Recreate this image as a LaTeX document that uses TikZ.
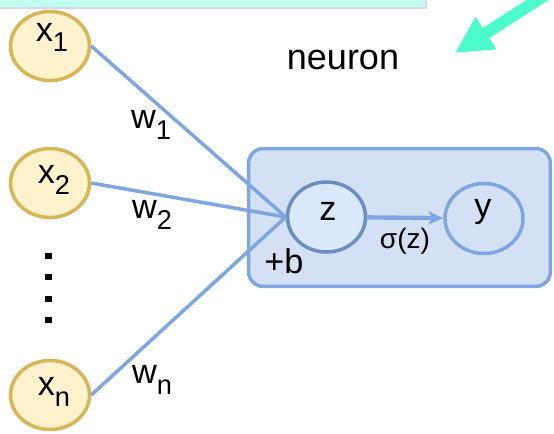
\documentclass[tikz,border=0pt]{standalone}
\usepackage{fontspec}
\setmainfont{Liberation Sans}
\usetikzlibrary{shapes.geometric,arrows.meta}

\definecolor{inFill}{HTML}{FFF2CC}
\definecolor{inLine}{HTML}{D6B656}
\definecolor{cellFill}{HTML}{D4E1F5}
\definecolor{cellLine}{HTML}{7EA6E0}
\definecolor{zFill}{HTML}{DAE8FC}
\definecolor{zLine}{HTML}{6C8EBF}
\definecolor{bannerFill}{HTML}{C0FFEE}
\definecolor{bannerLine}{HTML}{D8D4F0}
\definecolor{pointer}{HTML}{4DFCCB}

% indice abbassato
\newcommand{\lowidx}[1]{\raisebox{-0.22cm}{\fontsize{15.5}{15.5}\selectfont #1}}

\begin{document}
\begin{tikzpicture}[x=0.02cm, y=-0.02cm]
    % --- CONFIGURAZIONE ---
    \tikzset{
        input_style/.style={ellipse, draw=inLine, fill=inFill, line width=2pt,
            minimum width=1.58cm, minimum height=1.38cm, inner sep=0pt},
        unit_style/.style={ellipse, line width=2pt,
            minimum width=1.56cm, minimum height=1.40cm, inner sep=0pt},
        edge_style/.style={draw=cellLine, line width=2pt},
        text_style/.style={anchor=base, inner sep=0pt, font=\fontsize{19.5}{19.5}\selectfont}
    }

    \useasboundingbox (0,0) rectangle (554,433);

    % ===================================================
    % 1. BANNER E FRECCIA
    % ===================================================
    \draw[fill=bannerFill, draw=bannerLine, line width=1.1pt] (-10,-30) rectangle (426,8);
    \coordinate (tail) at (581,-28);
    \coordinate (tip) at (455,53);
    \draw[pointer, line width=6.8pt, -{Triangle[length=7.4mm, width=7.2mm]}] (tail) -- (tip);
    \node[text_style, font=\fontsize{20.5}{20.5}\selectfont] (title) at (343,69) {neuron};

    % ===================================================
    % 2. NEURONE
    % ===================================================
    \node[draw=cellLine, fill=cellFill, line width=2pt, rounded corners=0.3cm,
        minimum width=6.04cm, minimum height=2.76cm] (cell) at (399.5,217.5) {};
    \node[unit_style, draw=zLine, fill=zFill] (z) at (326.5,217) {};
    \node[unit_style, draw=cellLine] (y) at (484,218.5) {};
    \node[text_style] at (328,220) {z};
    \node[text_style] at (483,217) {y};
    \node[text_style, font=\fontsize{16}{16}\selectfont] at (405,248) {σ(z)};
    \node[text_style] at (284,273) {+b};
    \draw[edge_style, line width=2.5pt, -{Stealth[length=3mm, width=2.6mm, inset=0.8mm]}] (z) -- (y);

    % ===================================================
    % 3. INGRESSI
    % ===================================================
    \node[input_style] (x1) at (50,46) {};
    \node[input_style] (x2) at (50,183) {};
    \node[input_style] (xn) at (50,395) {};
    \node[text_style] at (52,41) {x\lowidx{1}};
    \node[text_style] at (54,183) {x\lowidx{2}};
    \node[text_style] at (54,395) {x\lowidx{n}};

    % puntini verticali
    \foreach \j in {0,...,3} {
        \fill (45,{253+21.3*\j}) rectangle (52,{259+21.3*\j});
    }

    % Pesi
    \foreach \s in {x1, x2, xn} {
        \draw[edge_style] (\s.east) -- (z.west);
    }
    \node[text_style] at (151,128) {w\lowidx{1}};
    \node[text_style] at (152,218) {w\lowidx{2}};
    \node[text_style] at (152,383) {w\lowidx{n}};

\end{tikzpicture}
\end{document}
